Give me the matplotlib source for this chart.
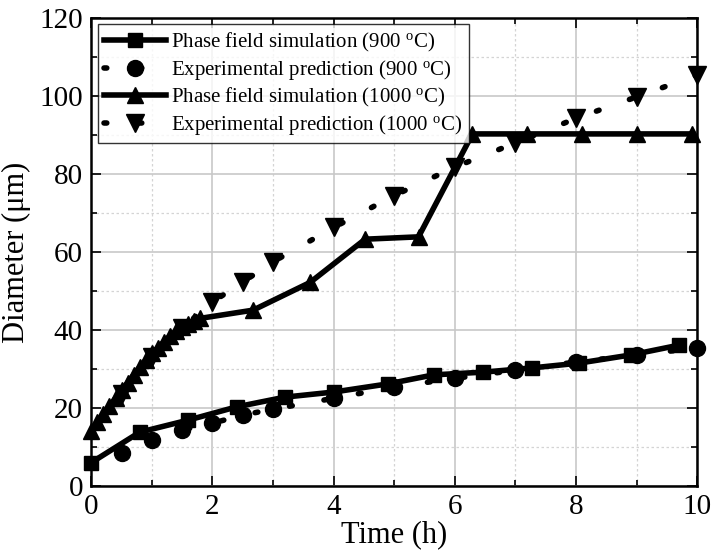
import matplotlib
matplotlib.use("Agg")
import matplotlib.pyplot as plt
from matplotlib.ticker import MultipleLocator

plt.rcParams['font.family'] = ['Liberation Serif', 'DejaVu Serif']
plt.rcParams['mathtext.fontset'] = 'stix'

# Phase field simulation 900 C
pf900_t = [0, 0.8, 1.6, 2.4, 3.2, 4.0, 4.9, 5.65, 6.47, 7.28, 8.04, 8.9, 9.69]
pf900_d = [6, 13.8, 16.9, 20.3, 22.8, 24.1, 26.2, 28.5, 29.2, 30.3, 31.5, 33.6, 36.1]

# Experimental prediction 900 C
ex900_t = [0.5, 1.0, 1.5, 2.0, 2.5, 3.0, 4.0, 5.0, 6.0, 7.0, 8.0, 9.0, 10.0]
ex900_d = [8.4, 11.8, 14.4, 16.1, 18.2, 19.7, 22.5, 25.4, 27.6, 29.7, 31.8, 33.6, 35.4]

# Phase field simulation 1000 C
pf1000_t = [0, 0.1, 0.2, 0.3, 0.4, 0.5, 0.6, 0.7, 0.8, 0.9, 1.0, 1.1, 1.2, 1.3,
            1.4, 1.5, 1.6, 1.7, 1.8, 2.67, 3.61, 4.52, 5.4, 6.29, 7.19, 8.1, 9.0, 9.92]
pf1000_d = [14, 16.5, 18.5, 20.5, 22.5, 24.5, 26.5, 28.5, 30.5, 32.3, 34, 35.5, 37,
            38.5, 39.8, 40.8, 41.5, 42.2, 43, 45.1, 52.2, 63.3, 63.9, 90.3, 90.3, 90.3, 90.3, 90.3]

# Experimental prediction 1000 C
ex1000_t = [0.5, 1.0, 1.5, 2.0, 2.5, 3.0, 4.0, 5.0, 6.0, 7.0, 8.0, 9.0, 10.0]
ex1000_d = [23.5, 33.0, 40.5, 47.2, 52.3, 57.5, 66.3, 74.5, 81.8, 88.0, 94.3, 99.8, 105.4]

labels = ["Phase field simulation (900 $\\mathregular{^oC}$)",
          "Experimental prediction (900 $\\mathregular{^oC}$)",
          "Phase field simulation (1000 $\\mathregular{^oC}$)",
          "Experimental prediction (1000 $\\mathregular{^oC}$)"]

fig = plt.figure(figsize=(7.13, 5.59), dpi=100)
ax = fig.add_axes([0.128, 0.1306, 0.850, 0.837])

lw = 4
dotted = (0, (0.5, 5.8))
ax.plot(pf900_t, pf900_d, color='black', lw=lw, marker='s', ms=10, label=labels[0], clip_on=False, zorder=3)
ax.plot(ex900_t, ex900_d, color='black', lw=lw, ls=dotted, dash_capstyle='round', marker='o', ms=11.5,
        label=labels[1], clip_on=False, zorder=3)
ax.plot(pf1000_t, pf1000_d, color='black', lw=lw, marker='^', ms=12, label=labels[2], clip_on=False, zorder=3)
ax.plot(ex1000_t, ex1000_d, color='black', lw=lw, ls=dotted, dash_capstyle='round', marker='v', ms=12.5,
        label=labels[3], clip_on=False, zorder=3)

ax.set_xlim(0, 10)
ax.set_ylim(0, 120)
ax.xaxis.set_major_locator(MultipleLocator(2))
ax.xaxis.set_minor_locator(MultipleLocator(1))
ax.yaxis.set_major_locator(MultipleLocator(20))
ax.yaxis.set_minor_locator(MultipleLocator(10))

ax.grid(which='major', color='#c8c8c8', lw=1.2, ls='-')
ax.grid(which='minor', color='#d4d4d4', lw=0.9, ls=(0, (2, 2)))
ax.set_axisbelow(True)

ax.tick_params(which='both', direction='in', top=True, right=True, labelsize=21, pad=6, width=1.2)
ax.tick_params(which='major', length=7)
ax.tick_params(which='minor', length=4)
for s in ax.spines.values():
    s.set_linewidth(1.8)

ax.set_xlabel("Time (h)", fontsize=22, labelpad=0)
ax.set_ylabel("Diameter (μm)", fontsize=22, labelpad=6)

leg = ax.legend(loc='upper left', fontsize=15, frameon=True, fancybox=False, edgecolor='black',
                handlelength=3.0, handletextpad=0.25, borderpad=0.3, labelspacing=0.2,
                borderaxespad=0.3)
leg.get_frame().set_linewidth(1.0)

fig.savefig("out.png", dpi=100)
